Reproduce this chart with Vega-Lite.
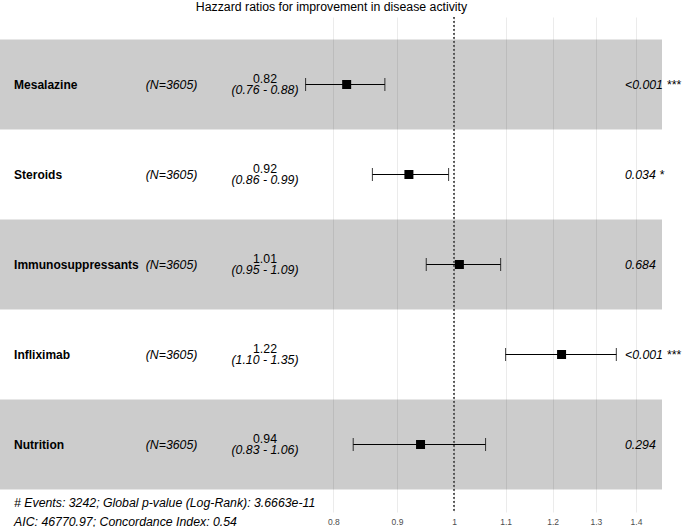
{
  "$schema": "https://vega.github.io/schema/vega-lite/v6.json",
  "width": 685,
  "height": 495,
  "autosize": {"type": "none"},
  "padding": {"left": 0, "right": 0, "top": 17, "bottom": 15},
  "title": {
    "text": "Hazzard ratios for improvement in disease activity",
    "font": "Liberation Sans",
    "fontSize": 12.3,
    "fontWeight": "normal",
    "color": "#000000",
    "anchor": "middle",
    "dx": -11,
    "offset": 3
  },
  "config": {"view": {"stroke": null}, "font": "Liberation Sans"},
  "datasets": {
    "rows": [
      {"var": "Mesalazine", "n": "(N=3605)", "est": 0.82, "lo": 0.76, "hi": 0.88, "estLabel": "0.82", "ciLabel": "(0.76 - 0.88)", "pLabel": "<0.001 ***", "shaded": true},
      {"var": "Steroids", "n": "(N=3605)", "est": 0.92, "lo": 0.86, "hi": 0.99, "estLabel": "0.92", "ciLabel": "(0.86 - 0.99)", "pLabel": "0.034 *", "shaded": false},
      {"var": "Immunosuppressants", "n": "(N=3605)", "est": 1.01, "lo": 0.95, "hi": 1.09, "estLabel": "1.01", "ciLabel": "(0.95 - 1.09)", "pLabel": "0.684", "shaded": true},
      {"var": "Infliximab", "n": "(N=3605)", "est": 1.22, "lo": 1.10, "hi": 1.35, "estLabel": "1.22", "ciLabel": "(1.10 - 1.35)", "pLabel": "<0.001 ***", "shaded": false},
      {"var": "Nutrition", "n": "(N=3605)", "est": 0.94, "lo": 0.83, "hi": 1.06, "estLabel": "0.94", "ciLabel": "(0.83 - 1.06)", "pLabel": "0.294", "shaded": true}
    ],
    "notes": [
      {"note": "# Events: 3242; Global p-value (Log-Rank): 3.6663e-11\nAIC: 46770.97; Concordance Index: 0.54"}
    ]
  },
  "data": {"name": "rows"},
  "layer": [
    {
      "transform": [{"filter": "datum.shaded"}],
      "mark": {"type": "rect", "color": "#000000", "opacity": 0.2},
      "encoding": {
        "x": {
          "datum": 0.432,
          "type": "quantitative",
          "scale": {"type": "log", "domain": [0.432, 1.5327], "nice": false, "zero": false},
          "axis": {
            "values": [0.8, 0.9, 1, 1.1, 1.2, 1.3, 1.4],
            "format": "~g",
            "title": null,
            "domain": false,
            "ticks": false,
            "labelFont": "Liberation Sans",
            "labelFontSize": 8.5,
            "labelColor": "#4d4d4d",
            "labelPadding": 5,
            "grid": true,
            "gridColor": "#ebebeb",
            "gridWidth": 1
          }
        },
        "x2": {"datum": 1.4689},
        "y": {
          "field": "var",
          "type": "nominal",
          "sort": null,
          "scale": {
            "domain": ["Mesalazine", "Steroids", "Immunosuppressants", "Infliximab", "Nutrition"],
            "paddingInner": 0,
            "paddingOuter": 0.25
          },
          "axis": null
        }
      }
    },
    {
      "mark": {"type": "rule", "color": "#555555", "strokeWidth": 1.2, "strokeDash": [1.5, 2.5]},
      "encoding": {"x": {"datum": 1, "type": "quantitative"}}
    },
    {
      "mark": {"type": "rule", "color": "#000000", "strokeWidth": 1.1},
      "encoding": {
        "x": {"field": "lo", "type": "quantitative"},
        "x2": {"field": "hi"},
        "y": {"field": "var", "type": "nominal", "sort": null}
      }
    },
    {
      "mark": {"type": "tick", "color": "#000000", "size": 13, "thickness": 1.1, "orient": "vertical"},
      "encoding": {
        "x": {"field": "lo", "type": "quantitative"},
        "y": {"field": "var", "type": "nominal", "sort": null}
      }
    },
    {
      "mark": {"type": "tick", "color": "#000000", "size": 13, "thickness": 1.1, "orient": "vertical"},
      "encoding": {
        "x": {"field": "hi", "type": "quantitative"},
        "y": {"field": "var", "type": "nominal", "sort": null}
      }
    },
    {
      "mark": {"type": "point", "shape": "square", "filled": true, "size": 81, "color": "#000000", "opacity": 1},
      "encoding": {
        "x": {"field": "est", "type": "quantitative"},
        "y": {"field": "var", "type": "nominal", "sort": null}
      }
    },
    {
      "mark": {"type": "text", "align": "left", "baseline": "middle", "fontSize": 12, "fontWeight": "bold", "color": "#000000"},
      "encoding": {
        "x": {"datum": 0.4434, "type": "quantitative"},
        "y": {"field": "var", "type": "nominal", "sort": null},
        "text": {"field": "var"}
      }
    },
    {
      "mark": {"type": "text", "align": "right", "baseline": "middle", "fontSize": 12.3, "fontStyle": "italic", "color": "#000000"},
      "encoding": {
        "x": {"datum": 0.6222, "type": "quantitative"},
        "y": {"field": "var", "type": "nominal", "sort": null},
        "text": {"field": "n"}
      }
    },
    {
      "mark": {"type": "text", "align": "center", "baseline": "middle", "fontSize": 12.3, "dy": -5.8, "color": "#000000"},
      "encoding": {
        "x": {"datum": 0.7051, "type": "quantitative"},
        "y": {"field": "var", "type": "nominal", "sort": null},
        "text": {"field": "estLabel"}
      }
    },
    {
      "mark": {"type": "text", "align": "center", "baseline": "middle", "fontSize": 12.3, "fontStyle": "italic", "dy": 5.8, "color": "#000000"},
      "encoding": {
        "x": {"datum": 0.7051, "type": "quantitative"},
        "y": {"field": "var", "type": "nominal", "sort": null},
        "text": {"field": "ciLabel"}
      }
    },
    {
      "mark": {"type": "text", "align": "left", "baseline": "middle", "fontSize": 12.3, "fontStyle": "italic", "color": "#000000"},
      "encoding": {
        "x": {"datum": 1.3718, "type": "quantitative"},
        "y": {"field": "var", "type": "nominal", "sort": null},
        "text": {"field": "pLabel"}
      }
    },
    {
      "data": {"name": "notes"},
      "mark": {"type": "text", "align": "left", "baseline": "alphabetic", "fontSize": 12.3, "fontStyle": "italic", "color": "#000000", "lineBreak": "\n", "lineHeight": 19, "dy": 62},
      "encoding": {
        "x": {"datum": 0.4434, "type": "quantitative"},
        "y": {"datum": "Nutrition", "type": "nominal"},
        "text": {"field": "note"}
      }
    }
  ]
}
